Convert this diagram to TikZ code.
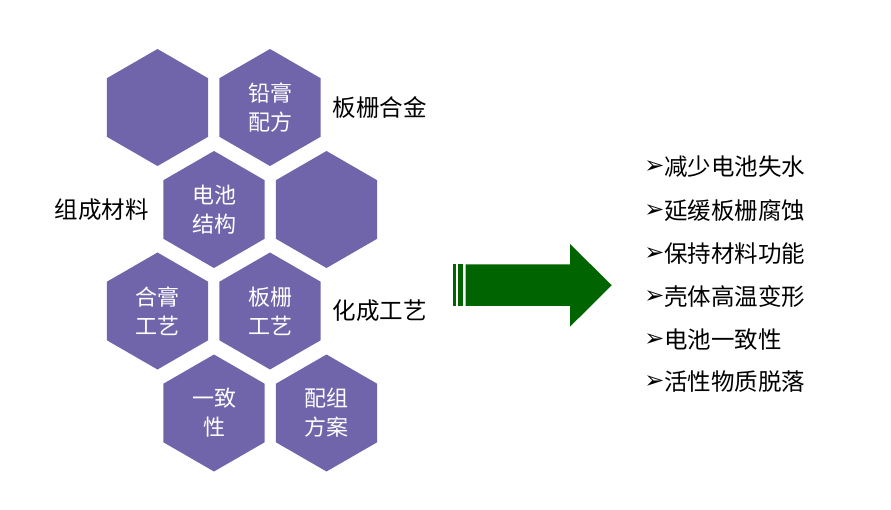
\documentclass[tikz,border=0pt]{standalone}
\usepackage{fontspec}
\usepackage{xcolor,tikz}
\usetikzlibrary{shapes.geometric}
\setmainfont{Noto Sans CJK SC}
\newfontfamily\bulletfont{DejaVu Sans}
\definecolor{hexpurple}{RGB}{112,101,170}
\definecolor{arrowgreen}{RGB}{0,100,0}

\begin{document}
\begin{tikzpicture}[x=1pt,y=-1pt,
  every node/.style={font=\fontsize{22}{29}\selectfont},
  hexcell/.style={regular polygon,regular polygon sides=6,shape border rotate=30,
    minimum size=117pt,inner sep=0pt,outer sep=0pt,fill=hexpurple,text=white,align=center},
  sidelabel/.style={anchor=west,font=\fontsize{23.5}{28}\selectfont},
  bulletmark/.style={inner sep=0pt,font=\bulletfont\fontsize{24}{28}\selectfont},
  effectitem/.style={anchor=west,inner sep=0pt,font=\fontsize{23.5}{28}\selectfont}]
\useasboundingbox (0,0) rectangle (891,510);
\node[hexcell] (hexA) at (157.5,107.5) {};
\node[hexcell] (hexB) at (270.0,107.5) {铅膏\\配方};
\node[hexcell] (hexC) at (214.0,209.5) {电池\\结构};
\node[hexcell] (hexD) at (326.5,209.5) {};
\node[hexcell] (hexE) at (157.5,311.0) {合膏\\工艺};
\node[hexcell] (hexF) at (270.0,311.0) {板栅\\工艺};
\node[hexcell] (hexG) at (214.0,413.0) {一致\\性};
\node[hexcell] (hexH) at (326.5,413.0) {配组\\方案};
\node[sidelabel] (alloy) at (329,107.5) {板栅合金};
\node[sidelabel] (material) at (51,210) {组成材料};
\node[sidelabel] (forming) at (329,311) {化成工艺};
\fill[arrowgreen] (453.0,264.3) rectangle (455.7,306.0);
\fill[arrowgreen] (457.7,264.3) rectangle (462.7,306.0);
\fill[arrowgreen] (465.7,264.3)--(570,264.3)--(570,244)--(611.7,285.2)--(570,326.7)--(570,306)--(465.7,306)--cycle;
\node[bulletmark] (lossmark) at (654.5,167) {➢};
\node[effectitem] (loss) at (664,167) {减少电池失水};
\node[bulletmark] (corrosionmark) at (654.5,211) {➢};
\node[effectitem] (corrosion) at (664,211) {延缓板栅腐蚀};
\node[bulletmark] (functionmark) at (654.5,254) {➢};
\node[effectitem] (function) at (664,254) {保持材料功能};
\node[bulletmark] (deformmark) at (654.5,297) {➢};
\node[effectitem] (deform) at (664,297) {壳体高温变形};
\node[bulletmark] (consistmark) at (654.5,340) {➢};
\node[effectitem] (consist) at (664,340) {电池一致性};
\node[bulletmark] (sheddingmark) at (654.5,382) {➢};
\node[effectitem] (shedding) at (664,382) {活性物质脱落};
\end{tikzpicture}
\end{document}
